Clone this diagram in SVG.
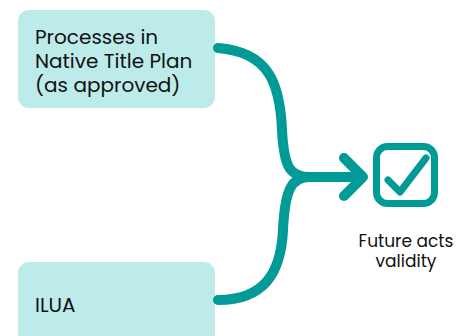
<svg xmlns="http://www.w3.org/2000/svg" width="457" height="336" viewBox="0 0 457 336">
<style>
.box{fill:#bdebea}
.t{font-family:Poppins,"Open Sans","Noto Sans",sans-serif;fill:#111}
.c{fill:none;stroke:#009b96;stroke-width:10;stroke-linecap:round;stroke-linejoin:round}
</style>
<g id="node-nt">
<rect class="box" x="18" y="10" width="197" height="98" rx="11"/>
<text class="t" font-size="20"><tspan x="35" y="44">Processes in</tspan><tspan x="35" y="68">Native Title Plan</tspan><tspan x="35" y="92">(as approved)</tspan></text>
</g>
<g id="node-ilua">
<rect class="box" x="18" y="262" width="197" height="90" rx="11"/>
<text class="t" font-size="20" x="35" y="312">ILUA</text>
</g>
<g id="connectors">
<path class="c" d="M218,48 C268,52 280,82 282,130 C284,168 290,177 310,177 H362"/>
<path class="c" d="M218,300 C265,300 281,272 283,230 C285,188 292,177 310,177"/>
<path class="c" d="M344,158 L363,177 L344,196"/>
</g>
<g id="node-future">
<rect x="376.5" y="146.5" width="58" height="57" rx="11" fill="none" stroke="#009b96" stroke-width="7"/>
<path d="M388,180 L400,192 L426,158" fill="none" stroke="#009b96" stroke-width="7" stroke-linecap="round" stroke-linejoin="round"/>
<text class="t" font-size="17" text-anchor="middle"><tspan x="406" y="247">Future acts</tspan><tspan x="406" y="267">validity</tspan></text>
</g>
</svg>
